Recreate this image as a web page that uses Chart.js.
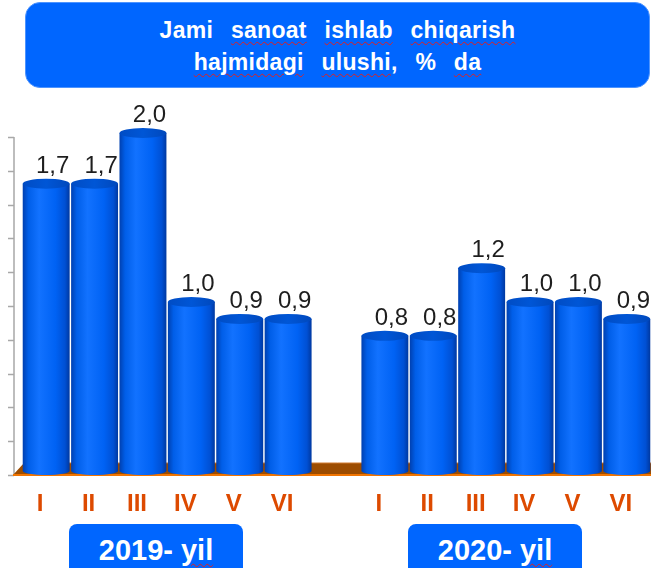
<!DOCTYPE html>
<html>
<head>
<meta charset="utf-8">
<script src="https://cdn.jsdelivr.net/npm/chart.js@4.4.1/dist/chart.umd.min.js"></script>
<style>
  body { margin: 0; background: #fff; width: 651px; height: 568px; overflow: hidden; position: relative; font-family: "Liberation Sans", Arial, sans-serif; }
  #myChart { position: absolute; left: 0; top: 0; }
  .title {
    position: absolute; left: 25px; top: 2px; width: 625px; height: 86px;
    box-sizing: border-box; padding-top: 11px;
    background: #0066ff; border: 1px solid #4d94ff; border-radius: 15px;
    color: #fff; font-weight: bold; font-size: 23px; line-height: 32px;
    letter-spacing: 0.3px; word-spacing: 11px; text-align: center;
  }
  .year {
    position: absolute; top: 524px; width: 174px; height: 60px;
    box-sizing: border-box; padding-top: 11px;
    background: #0066ff; border-radius: 8px;
    color: #fff; font-weight: bold; font-size: 29px; line-height: 30px; text-align: center;
  }
  .sp { text-decoration: underline wavy #e02020; text-decoration-thickness: 1px; text-underline-offset: 3px; }
</style>
</head>
<body>
<div class="title">Jami <span class="sp">sanoat</span> <span class="sp">ishlab</span> <span class="sp">chiqarish</span><br><span class="sp">hajmidagi</span> <span class="sp">ulushi</span>, % <span class="sp">da</span></div>
<canvas id="myChart" width="651" height="568"></canvas>
<div class="year" style="left:69px">2019- <span class="sp">yil</span></div>
<div class="year" style="left:408px">2020- <span class="sp">yil</span></div>
<script>
let months = ["I", "II", "III", "IV", "V", "VI"];
let share_2019 = [1.7, 1.7, 2.0, 1.0, 0.9, 0.9];
let share_2020 = [0.8, 0.8, 1.2, 1.0, 1.0, 0.9];

// one empty slot between the two years
let labels = months.concat([""], months);
let values = share_2019.concat([null], share_2020);

const cylinders = {
  id: "cylinders",
  afterDatasetsDraw(chart) {
    const ctx = chart.ctx;
    const area = chart.chartArea;
    const xScale = chart.scales.x;
    const yScale = chart.scales.y;
    const base0 = yScale.getPixelForValue(0);

    ctx.save();
    // y axis line with ticks
    const ax = area.left - 8;
    ctx.strokeStyle = "#a8a8a8";
    ctx.lineWidth = 1.5;
    ctx.beginPath();
    ctx.moveTo(ax, yScale.getPixelForValue(2.0) + 4);
    ctx.lineTo(ax, base0 + 4);
    for (let v = 0; v <= 2.001; v += 0.2) {
      const py = Math.round(yScale.getPixelForValue(v) + 4) + 0.5;
      ctx.moveTo(ax - 6, py);
      ctx.lineTo(ax, py);
    }
    ctx.stroke();

    // floor
    ctx.fillStyle = "#9c4c00";
    ctx.beginPath();
    ctx.moveTo(ax - 1, base0 + 4);
    ctx.lineTo(area.right, base0 + 4);
    ctx.lineTo(area.right, base0 - 8);
    ctx.lineTo(area.left + 2, base0 - 8);
    ctx.closePath();
    ctx.fill();
    ctx.strokeStyle = "#f07400";
    ctx.lineWidth = 2;
    ctx.beginPath();
    ctx.moveTo(ax - 1, base0 + 4);
    ctx.lineTo(area.right, base0 + 4);
    ctx.stroke();
    ctx.strokeStyle = "#d07a30";
    ctx.lineWidth = 1;
    ctx.beginPath();
    ctx.moveTo(area.left + 2, base0 - 8);
    ctx.lineTo(area.right, base0 - 8);
    ctx.stroke();

    // category labels (I .. VI)
    ctx.fillStyle = "#dd4a00";
    ctx.font = 'bold 24px "Liberation Sans", Arial, sans-serif';
    ctx.textAlign = "center";
    ctx.textBaseline = "alphabetic";
    labels.forEach((lab, i) => {
      ctx.fillText(lab, xScale.getPixelForTick(i) - 6, base0 + 40);
    });

    // cylinders
    const meta = chart.getDatasetMeta(0);
    meta.data.forEach((bar, i) => {
      if (values[i] == null) return;
      const p = bar.getProps(["x", "y", "base", "width"], true);
      const rx = p.width / 2;
      const left = p.x - rx, right = p.x + rx;
      const g = ctx.createLinearGradient(left, 0, right, 0);
      g.addColorStop(0, "#0040b0");
      g.addColorStop(0.12, "#005ee8");
      g.addColorStop(0.35, "#1272ff");
      g.addColorStop(0.7, "#0062f4");
      g.addColorStop(0.9, "#0050d4");
      g.addColorStop(1, "#0038a0");
      ctx.fillStyle = g;
      ctx.beginPath();
      ctx.moveTo(left, p.y);
      ctx.lineTo(left, p.base);
      ctx.ellipse(p.x, p.base, rx, 4, 0, Math.PI, 0, true);
      ctx.lineTo(right, p.y);
      ctx.closePath();
      ctx.fill();

      const tg = ctx.createLinearGradient(left, 0, right, 0);
      tg.addColorStop(0, "#004cc4");
      tg.addColorStop(0.5, "#0056d6");
      tg.addColorStop(1, "#0048bc");
      ctx.fillStyle = tg;
      ctx.beginPath();
      ctx.ellipse(p.x, p.y, rx, 5, 0, 0, Math.PI * 2);
      ctx.fill();

      ctx.fillStyle = "#1e1e1e";
      ctx.font = '24px "Liberation Sans", Arial, sans-serif';
      ctx.fillText(values[i].toFixed(1).replace(".", ","), p.x + 6.5, p.y - 11);
    });
    ctx.restore();
  },
};

const ctx = document.getElementById("myChart").getContext("2d");
const myChart = new Chart(ctx, {
  type: "bar",
  data: {
    labels: labels,
    datasets: [
      {
        label: "Ulushi",
        data: values,
        backgroundColor: "rgba(0,0,0,0)",
        borderWidth: 0,
        categoryPercentage: 1,
        barPercentage: 0.97,
      },
    ],
  },
  options: {
    responsive: false,
    animation: false,
    layout: { padding: { left: 22, right: 0, top: 133, bottom: 97 } },
    plugins: { legend: { display: false }, tooltip: { enabled: false } },
    scales: {
      x: { display: false },
      y: { display: false, min: 0, max: 2.0 },
    },
  },
  plugins: [cylinders],
});
</script>
</body>
</html>
